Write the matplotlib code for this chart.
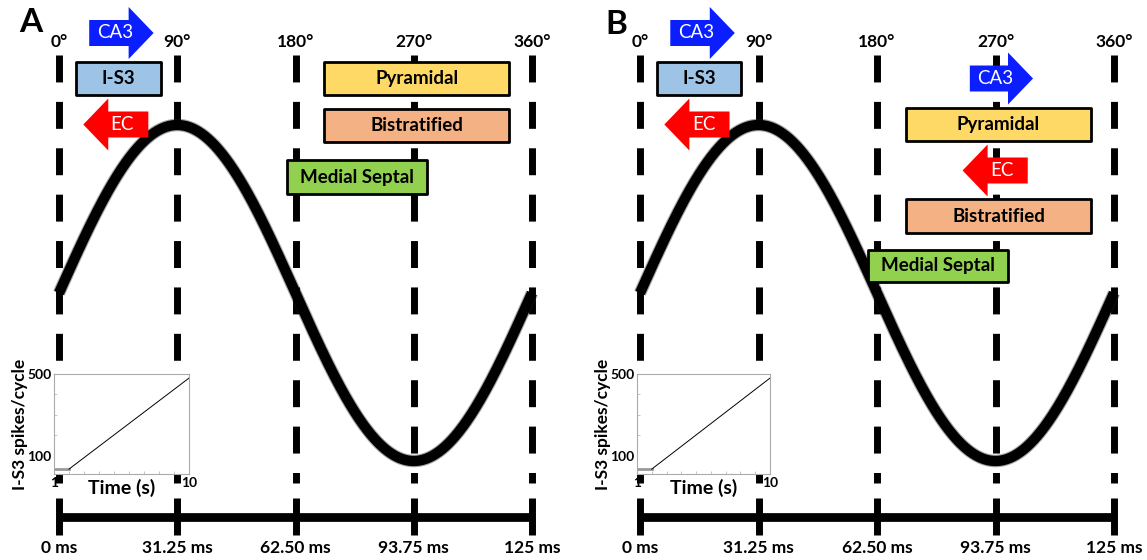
import numpy as np
import matplotlib
matplotlib.use('Agg')
import matplotlib.pyplot as plt
from matplotlib.patches import Rectangle, FancyArrow

plt.rcParams['font.family'] = ['Lato', 'DejaVu Sans']
plt.rcParams['lines.scale_dashes'] = False

# ---------------- data ----------------
phase_ticks = [0, 90, 180, 270, 360]
phase_labels = ['0°', '90°', '180°', '270°', '360°']
time_labels = ['0 ms', '31.25 ms', '62.50 ms', '93.75 ms', '125 ms']

cell_colors = {'I-S3': '#9DC3E6', 'Pyramidal': '#FFD966',
               'Bistratified': '#F4B183', 'Medial Septal': '#92D050'}

# preferred firing phase windows (degrees)
A_cells = ['I-S3', 'Pyramidal', 'Bistratified', 'Medial Septal']
A_start = [13, 202, 202, 173.5]
A_end = [77.5, 342.5, 342.5, 280]
B_cells = ['I-S3', 'Pyramidal', 'Bistratified', 'Medial Septal']
B_start = [13, 202, 202, 173]
B_end = [77, 342.5, 342.5, 279.5]

# input arrows: name, tail phase, tip phase
A_inputs = [('CA3', 23, 72), ('EC', 68, 18.5)]
B_inputs = [('CA3', 23, 72), ('EC', 68, 18.5), ('CA3', 250.5, 298.5), ('EC', 294.5, 245)]

# inset: I-S3 spikes per cycle vs time
inset_time = [1, 2, 10]
inset_spikes = [36, 36, 480]

# ---------------- layout ----------------
W, H, DPI = 1147, 560, 100
fig = plt.figure(figsize=(W / DPI, H / DPI), dpi=DPI)

MID, AMP = 293.0, 168.0  # pixel midline / amplitude of the cycle


def ypx(p):
    return (MID - p) / AMP


def make_panel(left_px, right_px, x0_px, x360_px):
    ppd = (x360_px - x0_px) / 360.0
    ax = fig.add_axes([left_px / W, 0, (right_px - left_px) / W, 1])
    ax.set_xlim((left_px - x0_px) / ppd, (right_px - x0_px) / ppd)
    ax.set_ylim(ypx(H), ypx(0))
    ax.axis('off')
    return ax


def draw_box(ax, name, x0, x1, top_px, bot_px):
    r = Rectangle((x0, ypx(bot_px)), x1 - x0, ypx(top_px) - ypx(bot_px),
                  facecolor=cell_colors[name], edgecolor='black', lw=2.0,
                  joinstyle='round', zorder=5)
    ax.add_patch(r)
    ax.text((x0 + x1) / 2, (ypx(top_px) + ypx(bot_px)) / 2, name, ha='center',
            va='center', fontsize=13.5, fontweight='bold', zorder=6)


def draw_arrow(ax, name, tail, tip, yc_px):
    color = '#0A1EFF' if name == 'CA3' else '#FF0000'
    yc = ypx(yc_px)
    arr = FancyArrow(tail, yc, tip - tail, 0, width=2 * 13 / AMP,
                     head_width=2 * 26 / AMP, head_length=19,
                     length_includes_head=True, color=color, lw=0, zorder=7)
    ax.add_patch(arr)
    ax.text(tail + 0.4 * (tip - tail), yc, name, ha='center', va='center',
            fontsize=13.5, color='white', zorder=8)


def draw_common(ax, letter, letter_xy):
    # dashed phase lines
    for p, lab in zip(phase_ticks, phase_labels):
        ax.plot([p, p], [ypx(55), ypx(483)], color='black', lw=5.0,
                dashes=(19.4, 14.0), solid_capstyle='butt',
                dash_capstyle='butt', zorder=1)
        ax.text(p, ypx(42), lab, ha='center', va='center', fontsize=12.5,
                fontweight='bold')
    # time bar
    ax.plot([0, 360], [ypx(517), ypx(517)], color='black', lw=6.3,
            solid_capstyle='butt', zorder=2)
    for p, lab in zip(phase_ticks, time_labels):
        ax.plot([p, p], [ypx(498), ypx(535)], color='black', lw=5.0,
                solid_capstyle='butt', zorder=2)
        ax.text(p, ypx(548), lab, ha='center', va='center', fontsize=12.5,
                fontweight='bold')
    # theta cycle
    ph = np.linspace(0, 360, 721)
    s = np.sin(np.deg2rad(ph))
    ax.plot(ph, s, color='#222222', lw=9.0, alpha=0.4, solid_capstyle='butt', zorder=3)
    ax.plot(ph, s, color='black', lw=7.4, solid_capstyle='butt', zorder=3)
    ax.text(letter_xy[0], letter_xy[1], letter, ha='center', va='center',
            fontsize=24, fontweight='bold')


def draw_inset(rect_px):
    x0, y0, x1, y1 = rect_px
    ia = fig.add_axes([x0 / W, (H - y1) / H, (x1 - x0) / W, (y1 - y0) / H])
    ia.set_zorder(10)
    ia.plot(inset_time[:2], inset_spikes[:2], color='#999999', lw=2.0)
    ia.plot(inset_time[1:], inset_spikes[1:], color='black', lw=0.7)
    ia.set_xlim(1, 10)
    ia.set_ylim(12, 500)
    ia.set_xticks([1, 10])
    ia.set_xticklabels(['1', '10'])
    ia.set_yticks([100, 500])
    ia.set_yticklabels(['100', '500'])
    ia.set_xticks(range(2, 10), minor=True)
    ia.set_yticks([200, 300, 400], minor=True)
    ia.tick_params(which='major', length=0, labelsize=10, pad=2)
    ia.tick_params(which='minor', length=2.5, direction='in', color='#BBBBBB', width=0.6)
    for lab in ia.get_xticklabels() + ia.get_yticklabels():
        lab.set_fontweight('bold')
    for sp in ia.spines.values():
        sp.set_color('#AAAAAA')
        sp.set_linewidth(0.8)
    ia.set_xlabel('Time (s)', fontsize=14, fontweight='bold', labelpad=-7)
    ia.set_ylabel('I-S3 spikes/cycle', fontsize=12.5, fontweight='bold', labelpad=-1)


# ---------------- panel A ----------------
axA = make_panel(0, 575, 59, 532)
draw_common(axA, 'A', (-21.3, ypx(22)))
A_rows = [(62, 95), (62, 95), (109, 142), (160, 194)]
for n, a, b, (t, bt) in zip(A_cells, A_start, A_end, A_rows):
    draw_box(axA, n, a, b, t, bt)
A_arrow_rows = [33, 124.5]
for (n, a, b), yc in zip(A_inputs, A_arrow_rows):
    draw_arrow(axA, n, a, b, yc)
draw_inset((54, 374, 189, 474))

# ---------------- panel B ----------------
axB = make_panel(575, 1147, 640, 1114)
draw_common(axB, 'B', (-18.2, ypx(24)))
B_rows = [(62, 95), (108, 141), (199, 233), (250, 282)]
for n, a, b, (t, bt) in zip(B_cells, B_start, B_end, B_rows):
    draw_box(axB, n, a, b, t, bt)
B_arrow_rows = [33, 124.5, 78.5, 170.5]
for (n, a, b), yc in zip(B_inputs, B_arrow_rows):
    draw_arrow(axB, n, a, b, yc)
draw_inset((637, 374, 770, 474))

fig.savefig('out.png', dpi=DPI)
